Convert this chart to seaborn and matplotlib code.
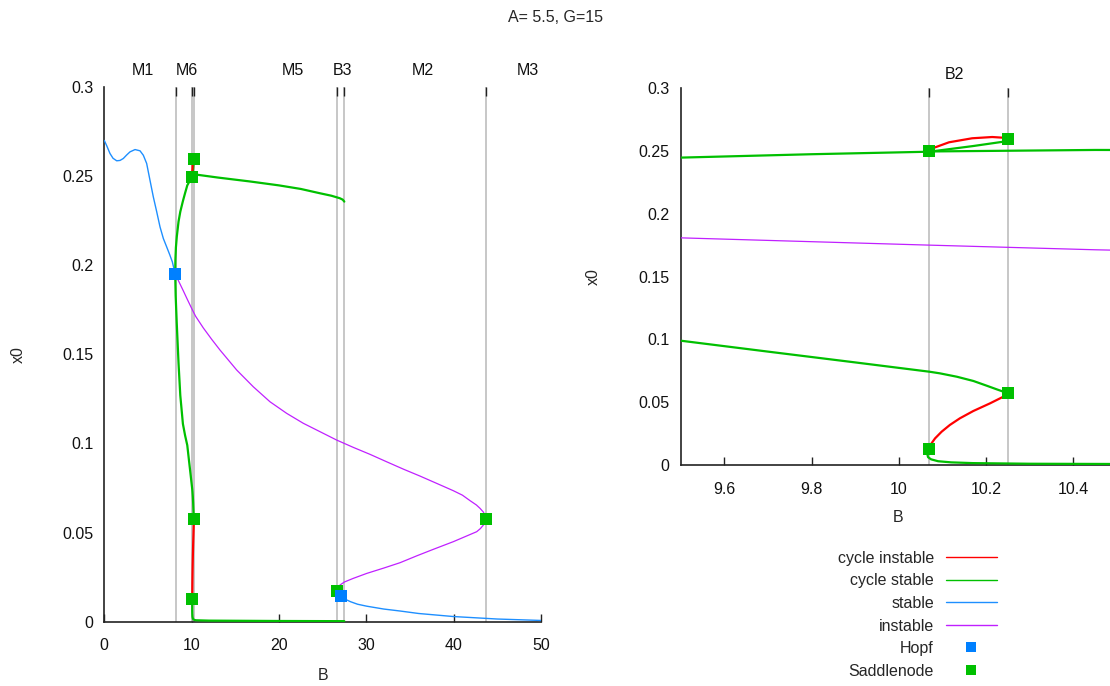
import matplotlib
matplotlib.use("Agg")
import matplotlib.pyplot as plt
from matplotlib.lines import Line2D
import seaborn as sns

# ---------------- data ----------------
# stable equilibrium (blue)
stable1_B = [0.0, 0.3, 0.65, 1.0, 1.42, 1.8, 2.18, 2.55, 2.94, 3.52, 4.09, 4.47, 4.85, 5.23,
             5.61, 6.0, 6.38, 6.76, 7.14, 7.5, 7.79, 8.12]
stable1_x = [0.270, 0.2668, 0.2627, 0.2600, 0.2586, 0.2588, 0.2599, 0.2618, 0.2636, 0.2649,
             0.2642, 0.2617, 0.2571, 0.2477, 0.2384, 0.230, 0.2215, 0.215, 0.2103, 0.2058,
             0.2019, 0.195]
stable2_B = [27.1, 27.5, 28.2, 29.0, 30.05, 32.0, 33.86, 36.0, 39.96, 45.0, 50.0]
stable2_x = [0.0146, 0.0128, 0.0112, 0.0098, 0.0087, 0.0071, 0.006, 0.0046, 0.0029, 0.0015, 0.0007]

# unstable equilibrium (purple)
instable_B = [8.12, 8.5, 9.05, 9.5, 10.07, 10.45, 11.34, 12.3, 13.25, 15.16, 17.06, 18.97,
              20.88, 22.79, 24.7, 26.61, 28.51, 30.42, 32.34, 34.24, 36.15, 38.06, 39.96,
              41.0, 41.88, 42.6, 43.02, 43.4, 43.59, 43.71, 43.62, 43.4, 43.05, 42.64, 41.11,
              39.96, 37.67, 35.8, 33.86, 32.0, 30.05, 28.5, 27.5, 26.99, 26.75, 26.7, 26.85, 27.1]
instable_x = [0.195, 0.1912, 0.1856, 0.1809, 0.1751, 0.1714, 0.1648, 0.1584, 0.1524, 0.1412,
              0.1318, 0.1234, 0.1169, 0.1113, 0.1066, 0.1019, 0.0978, 0.0939, 0.0897, 0.0856,
              0.0817, 0.0776, 0.0735, 0.0710, 0.0679, 0.0655, 0.0636, 0.0615, 0.0598, 0.0574,
              0.0555, 0.0542, 0.0522, 0.0505, 0.0473, 0.0449, 0.0406, 0.0370, 0.0331, 0.0301,
              0.0271, 0.0243, 0.0223, 0.0206, 0.0190, 0.0174, 0.0160, 0.0146]

# stable limit cycle branches (green)
cyc_up1_B = [8.12, 8.14, 8.2, 8.3, 8.5, 8.7, 9.0, 9.25, 9.5, 9.8, 10.07, 10.17, 10.24, 10.25]
cyc_up1_x = [0.195, 0.203, 0.210, 0.216, 0.2245, 0.230, 0.236, 0.2405, 0.2448, 0.2475, 0.2495,
             0.254, 0.2575, 0.2596]
cyc_up2_B = [10.07, 10.45, 11.5, 13.0, 16.68, 20.0, 22.5, 24.67, 26.0, 26.96, 27.3, 27.48]
cyc_up2_x = [0.2497, 0.2509, 0.2502, 0.2492, 0.247, 0.2448, 0.2428, 0.2404, 0.239, 0.2376,
             0.2368, 0.2357]
cyc_lo1_B = [8.12, 8.17, 8.29, 8.5, 8.7, 9.0, 9.25, 9.5, 9.7, 9.9, 10.07, 10.094, 10.133,
             10.171, 10.201, 10.224, 10.2395, 10.247, 10.25]
cyc_lo1_x = [0.195, 0.183, 0.168, 0.145, 0.127, 0.111, 0.1045, 0.099, 0.0903, 0.0817, 0.0743,
             0.073, 0.0703, 0.0669, 0.0632, 0.0603, 0.0584, 0.0578, 0.0575]
cyc_lo2_B = [10.07, 10.065, 10.067, 10.074, 10.09, 10.12, 10.17, 10.3, 10.5, 12.0, 20.0, 27.48]
cyc_lo2_x = [0.0125, 0.009, 0.0062, 0.0045, 0.003, 0.0021, 0.0015, 0.001, 0.0008, 0.0006,
             0.0004, 0.0003]

# unstable limit cycle branches (red)
ucyc_up_B = [10.25, 10.245, 10.237, 10.214, 10.168, 10.115, 10.077, 10.07]
ucyc_up_x = [0.2596, 0.2603, 0.2607, 0.2612, 0.2602, 0.257, 0.2522, 0.2497]
ucyc_lo_B = [10.25, 10.2395, 10.209, 10.1707, 10.14, 10.117, 10.098, 10.083, 10.075, 10.07]
ucyc_lo_x = [0.0575, 0.0544, 0.0491, 0.043, 0.0372, 0.0319, 0.0265, 0.0212, 0.0173, 0.0125]

# special points
hopf_B = [8.12, 27.1]
hopf_x = [0.195, 0.0146]
saddle_B = [10.25, 10.07, 10.25, 10.07, 26.7, 43.71]
saddle_x = [0.2596, 0.2497, 0.0575, 0.0125, 0.0174, 0.0576]

# vertical guide lines and region labels
left_vlines = [8.25, 10.07, 10.25, 26.68, 27.48, 43.67]
right_vlines = [10.07, 10.25]
left_region_labels = ["M1", "M6", "M5", "B3", "M2", "M3"]
left_region_pos = [4.43, 9.47, 21.6, 27.3, 36.5, 48.5]
right_region_labels = ["B2"]
right_region_pos = [10.127]

left_xticks = [0, 10, 20, 30, 40, 50]
right_xticks = [9.6, 9.8, 10.0, 10.2, 10.4]
right_xticklabels = ["9.6", "9.8", "10", "10.2", "10.4"]
yticks = [0, 0.05, 0.1, 0.15, 0.2, 0.25, 0.3]
yticklabels = ["0", "0.05", "0.1", "0.15", "0.2", "0.25", "0.3"]

title = "A= 5.5, G=15"
legend_labels = ["cycle instable", "cycle stable", "stable", "instable", "Hopf", "Saddlenode"]

# ---------------- style ----------------
C_RED = "#ff0000"
C_GREEN = "#00c000"
C_BLUE = "#1e8fff"
C_PURPLE = "#c020ff"
C_HOPF = "#0080ff"
C_VLINE = "#b8b8b8"

sns.set_theme(style="white")
plt.rcParams["font.family"] = ["Liberation Sans", "DejaVu Sans"]
plt.rcParams["font.size"] = 11.5

fig = plt.figure(figsize=(11.10, 6.86), dpi=100)
ax1 = fig.add_axes([104.3 / 1110, 1 - 621.7 / 686, 436.7 / 1110, (621.7 - 87) / 686])
ax2 = fig.add_axes([680.7 / 1110, 1 - 465 / 686, 1 - 680.7 / 1110, (465 - 88.3) / 686])


def draw_curves(ax):
    curves = [
        (stable1_B, stable1_x, C_BLUE, 1.0),
        (stable2_B, stable2_x, C_BLUE, 1.0),
        (instable_B, instable_x, C_PURPLE, 0.9),
        (cyc_up1_B, cyc_up1_x, C_GREEN, 1.6),
        (cyc_up2_B, cyc_up2_x, C_GREEN, 1.6),
        (cyc_lo1_B, cyc_lo1_x, C_GREEN, 1.6),
        (cyc_lo2_B, cyc_lo2_x, C_GREEN, 1.6),
        (ucyc_up_B, ucyc_up_x, C_RED, 1.6),
        (ucyc_lo_B, ucyc_lo_x, C_RED, 1.6),
    ]
    for bx, yx, col, lw in curves:
        sns.lineplot(x=bx, y=yx, sort=False, estimator=None, color=col, lw=lw, ax=ax, zorder=3)
    sns.scatterplot(x=saddle_B, y=saddle_x, marker="s", s=80, color=C_GREEN, linewidth=0,
                    ax=ax, zorder=5)
    sns.scatterplot(x=hopf_B, y=hopf_x, marker="s", s=80, color=C_HOPF, linewidth=0,
                    ax=ax, zorder=5)


def style_axes(ax, xlim, xticks, xticklabels, vlines, region_labels, region_pos, label_y):
    for v in vlines:
        ax.axvline(v, color=C_VLINE, lw=1.1, zorder=1)
    ax.set_xlim(*xlim)
    ax.set_ylim(0, 0.3)
    ax.set_xticks(xticks)
    ax.set_xticklabels(xticklabels)
    ax.set_yticks(yticks)
    ax.set_yticklabels(yticklabels)
    for s in ["top", "right"]:
        ax.spines[s].set_visible(False)
    for s in ["left", "bottom"]:
        ax.spines[s].set_color("#222222")
        ax.spines[s].set_linewidth(1.2)
    ax.tick_params(axis="both", direction="in", length=6, width=1, color="#222222",
                   labelsize=11.5, labelcolor="#111111")
    ax.tick_params(axis="y", pad=8)
    ax.tick_params(axis="x", pad=12)
    # top ticks at the vertical lines
    top = ax.twiny()
    top.set_xlim(*xlim)
    top.set_xticks(vlines)
    top.set_xticklabels([])
    top.tick_params(axis="x", direction="in", length=6.5, width=1, color="#222222")
    for s in top.spines.values():
        s.set_visible(False)
    top.grid(False)
    for lab, pos in zip(region_labels, region_pos):
        ax.text(pos, label_y, lab, transform=ax.get_xaxis_transform(), ha="center",
                va="center", fontsize=11.5, color="#111111")
    ax.grid(False)


draw_curves(ax1)
style_axes(ax1, (0, 50), left_xticks, [str(t) for t in left_xticks], left_vlines,
           left_region_labels, left_region_pos, 1.031)
draw_curves(ax2)
style_axes(ax2, (9.5, 10.484), right_xticks, right_xticklabels, right_vlines,
           right_region_labels, right_region_pos, 1.037)

ax1.set_xlabel("B", fontsize=11.5)
ax1.set_ylabel("x0", fontsize=11.5)
ax1.xaxis.set_label_coords(0.5, -0.087)
ax1.yaxis.set_label_coords(-0.180, 0.5)
ax2.set_xlabel("B", fontsize=11.5)
ax2.set_ylabel("x0", fontsize=11.5)
ax2.xaxis.set_label_coords(0.506, -0.119)
ax2.yaxis.set_label_coords(-0.185, 0.5)

fig.text(0.5, 1 - 17 / 686, title, ha="center", va="center", fontsize=11.5)

handles = [
    Line2D([], [], color=C_RED, lw=1.0),
    Line2D([], [], color=C_GREEN, lw=1.0),
    Line2D([], [], color=C_BLUE, lw=1.0),
    Line2D([], [], color=C_PURPLE, lw=1.0),
    Line2D([], [], color=C_HOPF, lw=0, marker="s", markersize=7, markeredgewidth=0),
    Line2D([], [], color=C_GREEN, lw=0, marker="s", markersize=7, markeredgewidth=0),
]
fig.legend(handles, legend_labels, loc="upper right", bbox_to_anchor=(1005 / 1110, 1 - 543 / 686),
           frameon=False, markerfirst=False, borderpad=0, handlelength=3.2, handletextpad=0.75,
           labelspacing=0.47, fontsize=11.5)

fig.savefig("out.png", dpi=100)
